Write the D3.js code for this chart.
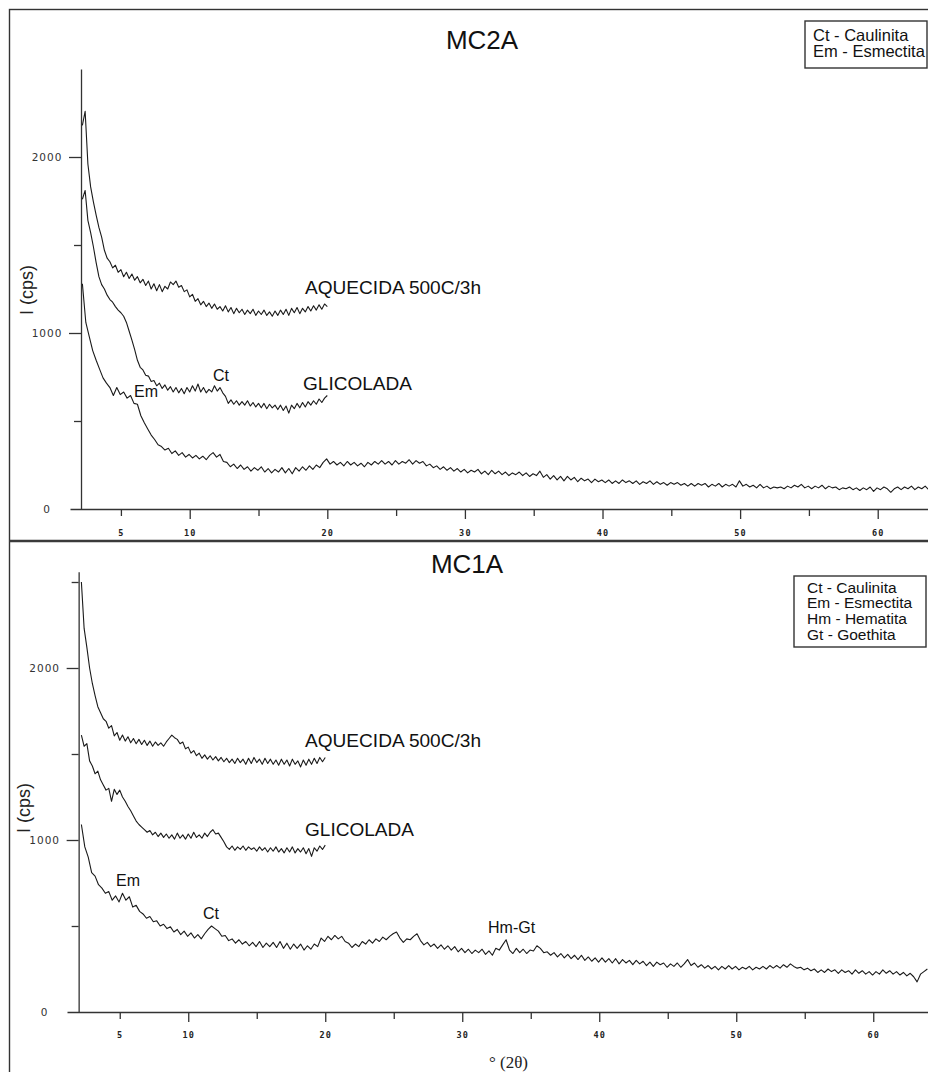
<!DOCTYPE html>
<html><head><meta charset="utf-8">
<script src="https://cdn.jsdelivr.net/npm/d3@7"></script>
<style>
html,body{margin:0;padding:0;background:#fff;}
svg{display:block;font-family:"Liberation Sans",Arial,sans-serif;}
</style></head>
<body><svg id="c" width="928" height="1072"></svg>
<script>
// ---------- DATA (2θ scans, uniform step) ----------
const shortStart = 2.2, shortStep = 0.2;   // AQUECIDA / GLICOLADA scans: 2.2°–20°
const longStart = 2.2,  longStep = 0.25;   // natural scans: 2.2°–64°

// MC2A
const mc2aAquecida = [2180,2260,1960,1830,1745,1670,1600,1545,1470,1425,1405,1370,1385,1345,1360,1320,1345,1310,1335,1300,1320,1285,1305,1270,1295,1250,1280,1240,1275,1235,1265,1250,1290,1275,1295,1260,1270,1235,1245,1205,1220,1180,1195,1160,1180,1150,1170,1140,1165,1135,1150,1125,1155,1120,1145,1110,1140,1115,1135,1105,1130,1110,1135,1100,1125,1105,1130,1100,1120,1095,1125,1100,1130,1105,1135,1100,1140,1115,1145,1110,1140,1120,1150,1125,1155,1130,1160,1135,1165,1150];
const mc2aGlicolada = [1760,1810,1640,1570,1490,1400,1320,1275,1250,1215,1190,1175,1150,1130,1115,1095,1060,1010,960,905,845,805,790,760,755,725,730,700,715,685,705,675,695,665,690,660,685,655,690,665,700,670,710,665,690,660,680,665,700,670,690,660,640,600,620,595,615,590,610,590,615,585,605,580,600,575,600,570,595,575,590,565,590,560,585,545,590,570,600,575,605,580,610,590,615,595,625,605,630,645];
const mc2aNatural = [1280,1060,980,900,845,795,745,715,690,645,690,650,665,630,645,600,595,530,490,455,420,395,365,355,335,345,315,330,305,320,295,310,290,305,285,300,280,305,320,295,310,270,265,240,255,230,250,225,240,215,235,220,240,210,230,205,225,210,235,205,230,200,235,215,240,220,245,225,250,235,265,285,255,270,250,265,245,270,250,265,245,260,240,265,250,270,255,275,255,270,250,275,255,270,260,280,255,275,260,270,245,255,235,245,225,240,220,235,215,230,210,225,205,220,210,225,200,215,195,220,200,215,195,210,190,205,195,210,190,205,185,200,190,215,180,195,170,190,165,185,160,185,165,180,155,175,160,170,150,170,155,165,150,165,145,160,145,165,150,160,145,160,140,155,145,160,140,155,140,150,135,150,140,150,135,145,130,145,130,145,135,145,125,140,130,145,125,140,130,140,125,160,130,140,125,135,120,140,120,130,115,125,120,125,115,130,120,135,125,140,120,130,115,130,120,135,115,130,120,125,110,120,115,125,110,120,105,120,110,125,100,120,110,125,115,95,115,125,110,125,115,130,110,125,115,130,110,125];

// MC1A
const mc1aAquecida = [2500,2230,2120,2000,1910,1840,1775,1740,1705,1690,1650,1665,1605,1625,1580,1610,1575,1600,1565,1590,1560,1585,1555,1580,1550,1575,1545,1570,1550,1565,1545,1570,1590,1610,1595,1585,1560,1570,1530,1540,1505,1520,1490,1505,1475,1495,1470,1490,1465,1485,1460,1480,1455,1475,1450,1470,1445,1475,1450,1470,1440,1475,1445,1480,1450,1470,1440,1475,1445,1470,1440,1465,1435,1470,1440,1465,1430,1470,1440,1460,1425,1465,1435,1470,1440,1475,1445,1480,1455,1480];
const mc1aGlicolada = [1610,1545,1560,1460,1430,1385,1400,1350,1320,1290,1300,1225,1295,1265,1290,1250,1225,1195,1170,1140,1110,1090,1075,1060,1045,1055,1030,1045,1020,1040,1015,1035,1010,1030,1005,1040,1010,1030,1005,1035,1010,1045,1015,1030,1010,1040,1020,1045,1060,1035,1040,1015,990,960,945,965,940,960,945,965,940,960,945,955,935,960,940,955,930,955,935,960,930,950,925,955,930,960,925,950,930,955,920,950,905,955,935,965,945,970];
const mc1aNatural = [1090,960,900,810,790,740,720,690,700,650,675,640,690,650,670,610,620,585,570,545,555,525,530,500,510,485,495,465,480,450,470,440,460,430,450,425,455,480,500,485,470,440,445,415,425,400,420,395,410,385,405,380,410,375,400,380,405,375,410,370,400,365,395,370,395,360,385,365,395,380,430,410,440,420,445,425,440,410,400,375,395,380,410,395,420,400,425,410,435,420,440,455,465,430,405,425,420,440,455,415,390,405,380,395,370,390,365,385,360,380,350,370,345,365,340,360,345,365,335,355,330,370,360,390,420,360,340,370,345,365,340,360,355,385,370,345,350,330,345,320,340,315,335,310,330,305,330,300,320,295,315,290,315,290,310,285,310,280,305,285,300,275,300,280,295,270,290,265,290,275,285,260,280,265,285,260,280,305,270,285,260,275,255,270,250,265,245,265,250,270,250,265,245,260,250,265,245,260,250,265,250,270,255,270,255,275,260,280,265,255,260,245,255,240,250,230,245,230,250,235,245,225,245,230,240,220,245,225,240,220,235,215,235,220,245,225,240,220,235,215,230,210,225,205,175,220,235,250];

// axis ticks
const xMajorTicks = [10,20,30,40,50,60];
const xMinorTicks = [5,15,25,35,45,55];
const xLabelled  = [5,10,20,30,40,50,60];
const yMajorTicks = [0,1000,2000];
const yMinorTopTicks = [500,1500];
const yMinorBottomTicks = [500,1500,2500];

// ---------- DRAW ----------
const svg = d3.select("#c");
const ink = "#1a1a1a", axisCol = "#333";

svg.append("rect").attr("x",9.5).attr("y",9.5).attr("width",940).attr("height",1080)
  .attr("fill","none").attr("stroke",axisCol).attr("stroke-width",1.4);
svg.append("line").attr("x1",9).attr("x2",928).attr("y1",541).attr("y2",541)
  .attr("stroke","#3a3a3a").attr("stroke-width",2.6);

function panel(cfg){
  const x = d3.scaleLinear().domain(cfg.xDom).range(cfg.xRange);
  const y = d3.scaleLinear().domain(cfg.yDom).range(cfg.yRange);
  const g = svg.append("g");
  const axX = x(cfg.yAxisAt);

  const yMaj = g.append("g").attr("transform",`translate(${axX},0)`)
    .call(d3.axisLeft(y).tickValues(yMajorTicks).tickSize(12).tickSizeOuter(0).tickFormat(d3.format("d")));
  yMaj.select(".domain").attr("stroke",axisCol).attr("stroke-width",1.3);
  yMaj.selectAll(".tick line").attr("stroke",axisCol).attr("stroke-width",1.3);
  yMaj.selectAll(".tick text").attr("x",-34).attr("text-anchor","middle")
    .attr("font-size",10.5).attr("letter-spacing",1).attr("fill","#333")
    .attr("font-family","'DejaVu Sans',sans-serif").attr("dy","0.35em");
  yMaj.selectAll(".tick").filter(d=>d===0).select("line").remove();
  const yMin = g.append("g").attr("transform",`translate(${axX},0)`)
    .call(d3.axisLeft(y).tickValues(cfg.yMinor).tickSize(7).tickSizeOuter(0).tickFormat(""));
  yMin.select(".domain").remove();
  yMin.selectAll(".tick line").attr("stroke",axisCol).attr("stroke-width",1.3);

  const baseY = y(0);
  const xMaj = g.append("g").attr("transform",`translate(0,${baseY})`)
    .call(d3.axisBottom(x).tickValues(xMajorTicks).tickSize(10).tickSizeOuter(0)
      .tickFormat(d=>xLabelled.includes(d)?d:""));
  xMaj.select(".domain").attr("stroke",axisCol).attr("stroke-width",1.5);
  xMaj.selectAll(".tick line").attr("stroke",axisCol).attr("stroke-width",1.3);
  const xMin = g.append("g").attr("transform",`translate(0,${baseY})`)
    .call(d3.axisBottom(x).tickValues(xMinorTicks).tickSize(7).tickSizeOuter(0)
      .tickFormat(d=>xLabelled.includes(d)?d:""));
  xMin.select(".domain").remove();
  xMin.selectAll(".tick line").attr("stroke",axisCol).attr("stroke-width",1.3);
  [xMaj, xMin].forEach(a=>a.selectAll(".tick text")
    .attr("y",cfg.xLabelOff).attr("dy","0.35em").attr("font-size",8.5).attr("letter-spacing",1.2)
    .attr("fill","#222").attr("font-weight","bold").attr("font-family","'DejaVu Sans Mono',monospace"));

  const line = d3.line().x(d=>x(d[0])).y(d=>y(d[1]));
  cfg.series.forEach(s=>{
    const pts = s.values.map((v,i)=>[s.start + i*s.step, v]);
    g.append("path").datum(pts).attr("d",line).attr("fill","none")
      .attr("stroke",ink).attr("stroke-width",1.1).attr("stroke-linejoin","round");
  });

  g.append("text").attr("x",cfg.titleX).attr("y",cfg.titleY).attr("text-anchor","middle")
    .attr("font-size",26).attr("fill","#111").text(cfg.title);

  g.append("text").attr("transform",`translate(${cfg.yTitleX},${cfg.yTitleY}) rotate(-90)`)
    .attr("text-anchor","middle").attr("font-size",18).attr("fill","#222").text("I (cps)");

  cfg.labels.forEach(l=>{
    const t = g.append("text").attr("x",l.x).attr("y",l.y).attr("font-size",l.size).attr("fill","#111").text(l.t);
    if (l.len) t.attr("textLength",l.len).attr("lengthAdjust","spacingAndGlyphs");
  });

  const lb = cfg.legend;
  g.append("rect").attr("x",lb.x).attr("y",lb.y).attr("width",lb.w).attr("height",lb.h)
    .attr("fill","#fff").attr("stroke","#333").attr("stroke-width",1.4);
  lb.lines.forEach((t,i)=>{
    g.append("text").attr("x",lb.tx).attr("y",lb.ty + i*lb.dy).attr("font-size",lb.fs)
      .attr("fill","#111").text(t);
  });
}

panel({
  xDom:[1.3,64.5], xRange:[70, 70+63.2*13.76],
  yDom:[0,2500], yRange:[509,69],
  yAxisAt:2.1, yMinor:yMinorTopTicks, xLabelOff:24,
  series:[
    {values:mc2aAquecida,start:shortStart,step:shortStep},
    {values:mc2aGlicolada,start:shortStart,step:shortStep},
    {values:mc2aNatural,start:longStart,step:longStep}
  ],
  title:"MC2A", titleX:482, titleY:49,
  yTitleX:33, yTitleY:290,
  labels:[
    {t:"AQUECIDA 500C/3h", x:305, y:294, size:18, len:176},
    {t:"GLICOLADA", x:303, y:390, size:18, len:109},
    {t:"Ct", x:213, y:381, size:16},
    {t:"Em", x:134, y:397, size:16}
  ],
  legend:{x:805,y:21,w:122,h:47,tx:813,ty:41,dy:16,fs:16.5,lines:["Ct - Caulinita","Em - Esmectita"]}
});

panel({
  xDom:[1.15,64.5], xRange:[67, 67+63.35*13.7],
  yDom:[0,2560], yRange:[1012, 1012-2560*0.172],
  yAxisAt:2.0, yMinor:yMinorBottomTicks, xLabelOff:23,
  series:[
    {values:mc1aAquecida,start:shortStart,step:shortStep},
    {values:mc1aGlicolada,start:shortStart,step:shortStep},
    {values:mc1aNatural,start:longStart,step:longStep}
  ],
  title:"MC1A", titleX:467, titleY:573,
  yTitleX:30, yTitleY:808,
  labels:[
    {t:"AQUECIDA 500C/3h", x:305, y:747, size:18, len:176},
    {t:"GLICOLADA", x:305, y:836, size:18, len:109},
    {t:"Em", x:116, y:886, size:16},
    {t:"Ct", x:203, y:919, size:16},
    {t:"Hm-Gt", x:488, y:933, size:16}
  ],
  legend:{x:794,y:576,w:132,h:71,tx:807,ty:592.5,dy:15.8,fs:15.5,lines:["Ct - Caulinita","Em - Esmectita","Hm - Hematita","Gt - Goethita"]}
});

svg.append("text").attr("x",489).attr("y",1068)
  .attr("font-family","'Liberation Serif','Times New Roman',serif").attr("font-size",17).attr("fill","#222")
  .text("° (2θ)");
</script></body></html>
